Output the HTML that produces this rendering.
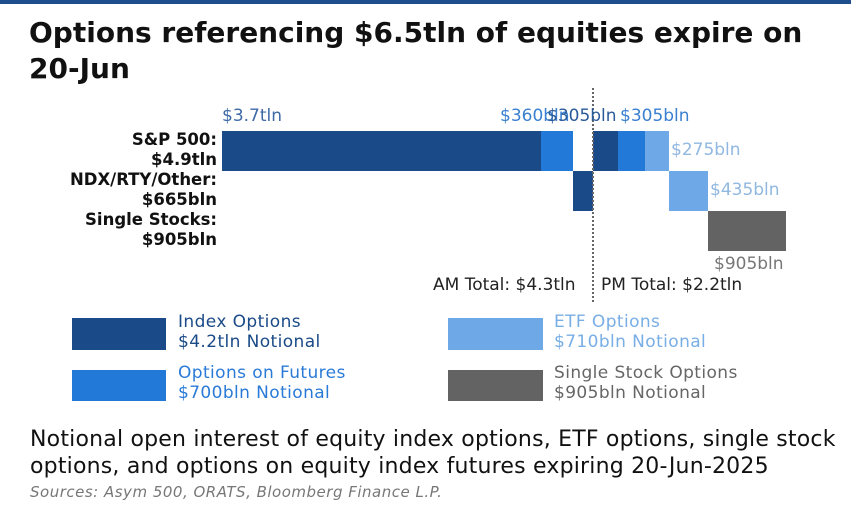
<!DOCTYPE html>
<html><head><meta charset="utf-8"><style>
html,body{margin:0;padding:0;background:#fff;}
body{width:858px;height:508px;position:relative;overflow:hidden;font-family:"DejaVu Sans","Liberation Sans",sans-serif;}
.a{position:absolute;white-space:nowrap;}
.b{position:absolute;}
</style></head><body>
<div class="b" style="left:0;top:0;width:851px;height:4px;background:#1e4e8c"></div>
<div class="a" style="left:29px;top:15px;font-size:28px;font-weight:bold;line-height:36px;color:#111">Options referencing $6.5tln of equities expire on<br>20-Jun</div>

<div class="a" style="right:641px;top:130px;font-size:16.5px;font-weight:bold;line-height:20px;text-align:right;color:#111">S&amp;P 500:<br>$4.9tln<br>NDX/RTY/Other:<br>$665bln<br>Single Stocks:<br>$905bln</div>

<div class="b" style="left:222px;top:131px;width:319px;height:40px;background:#1a4a87"></div>
<div class="b" style="left:541px;top:131px;width:32px;height:40px;background:#2279d8"></div>
<div class="b" style="left:573px;top:171px;width:20px;height:40px;background:#1a4a87"></div>
<div class="b" style="left:593px;top:131px;width:25px;height:40px;background:#1a4a87"></div>
<div class="b" style="left:618px;top:131px;width:27px;height:40px;background:#2279d8"></div>
<div class="b" style="left:645px;top:131px;width:24px;height:40px;background:#6fa8e6"></div>
<div class="b" style="left:669px;top:171px;width:39px;height:40px;background:#6fa8e6"></div>
<div class="b" style="left:708px;top:211px;width:78px;height:40px;background:#636363"></div>
<div class="b" style="left:592px;top:88px;width:0;height:214px;border-left:2px dotted #666"></div>

<div class="a" style="left:222px;top:106px;font-size:17px;color:#3d6aa6">$3.7tln</div>
<div class="a" style="left:500px;top:106px;font-size:17px;color:#3a80d0">$360bln</div>
<div class="a" style="left:547px;top:106px;font-size:17px;color:#2a5a98">$305bln</div>
<div class="a" style="left:620px;top:106px;font-size:17px;color:#3a80d0">$305bln</div>
<div class="a" style="left:671px;top:140px;font-size:17px;color:#90b8e0">$275bln</div>
<div class="a" style="left:710px;top:180px;font-size:17px;color:#90b8e0">$435bln</div>
<div class="a" style="left:714px;top:254px;font-size:17px;color:#777">$905bln</div>
<div class="a" style="left:433px;top:275px;font-size:17px;color:#222">AM Total: $4.3tln</div>
<div class="a" style="left:601px;top:275px;font-size:17px;color:#222">PM Total: $2.2tln</div>

<div class="b" style="left:72px;top:318px;width:94px;height:32px;background:#1a4a87"></div>
<div class="b" style="left:72px;top:370px;width:94px;height:31px;background:#2279d8"></div>
<div class="b" style="left:448px;top:318px;width:95px;height:32px;background:#6fa8e6"></div>
<div class="b" style="left:448px;top:370px;width:95px;height:31px;background:#636363"></div>
<div class="a" style="left:178px;top:312px;font-size:17px;letter-spacing:0.4px;line-height:20px;color:#1a4a87">Index Options<br>$4.2tln Notional</div>
<div class="a" style="left:178px;top:363px;font-size:17px;letter-spacing:0.4px;line-height:20px;color:#2a7ad8">Options on Futures<br>$700bln Notional</div>
<div class="a" style="left:554px;top:312px;font-size:17px;letter-spacing:0.4px;line-height:20px;color:#78aee6">ETF Options<br>$710bln Notional</div>
<div class="a" style="left:554px;top:363px;font-size:17px;letter-spacing:0.4px;line-height:20px;color:#666">Single Stock Options<br>$905bln Notional</div>

<div class="a" style="left:30px;top:426px;font-size:22px;letter-spacing:0.2px;line-height:27px;color:#111">Notional open interest of equity index options, ETF options, single stock<br>options, and options on equity index futures expiring 20-Jun-2025</div>
<div class="a" style="left:30px;top:483px;font-size:15px;letter-spacing:0.5px;font-style:italic;color:#777">Sources: Asym 500, ORATS, Bloomberg Finance L.P.</div>
</body></html>
